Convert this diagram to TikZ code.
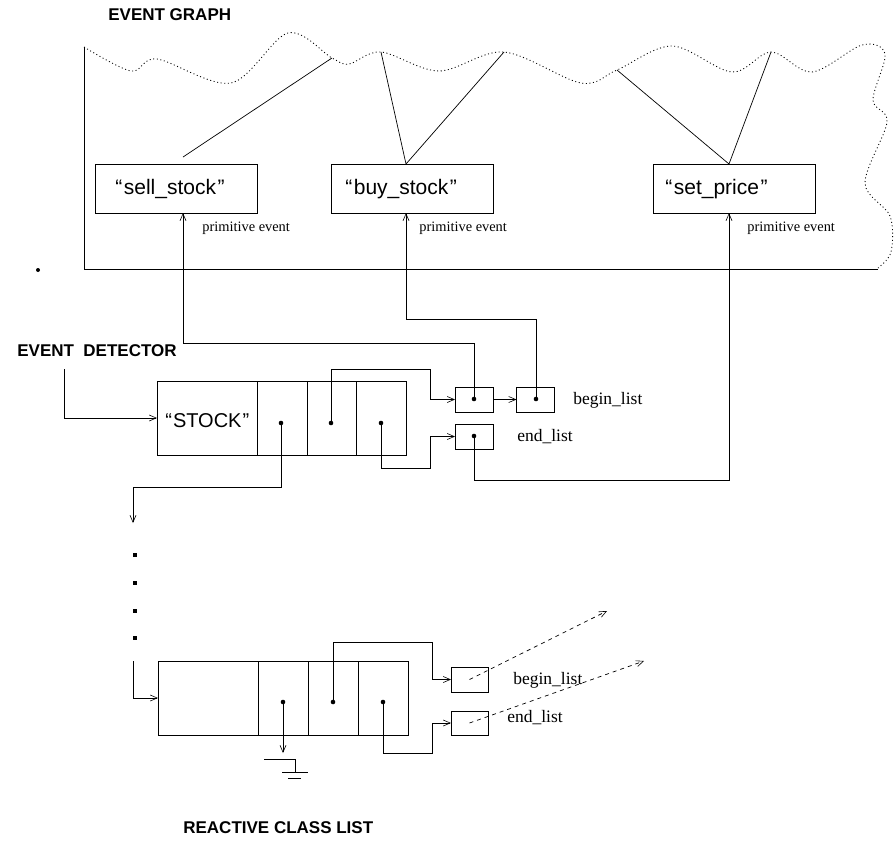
\documentclass[tikz,border=0pt]{standalone}
\usepackage{fontspec}
\setmainfont{Liberation Serif}
\setsansfont{Liberation Sans}
\usetikzlibrary{arrows.meta}
\begin{document}
\begin{tikzpicture}[x=1pt,y=-1pt,line width=0.7pt,
  tip/.style={-{Straight Barb[length=7pt,width=6pt,line width=0.6pt]}},
  evbox/.style={draw,rectangle,inner sep=0pt,outer sep=0pt,minimum width=162pt,minimum height=49pt},
  cellbox/.style={draw,rectangle,inner sep=0pt,outer sep=0pt,minimum height=74pt},
  ptrbox/.style={draw,rectangle,inner sep=0pt,outer sep=0pt,minimum width=38pt,minimum height=25pt},
  dot/.style={circle,fill,inner sep=0pt,minimum size=4.6pt},
  sq/.style={rectangle,fill,inner sep=0pt,minimum size=4pt},
  head/.style={font=\sffamily\bfseries\fontsize{17}{20}\selectfont,inner sep=0pt,anchor=west},
  evlbl/.style={font=\sffamily\fontsize{21}{24}\selectfont,inner sep=0pt,anchor=west},
  small/.style={font=\rmfamily\fontsize{14.4}{16}\selectfont,inner sep=0pt,anchor=west},
  listlbl/.style={font=\rmfamily\fontsize{17.5}{20}\selectfont,inner sep=0pt,anchor=west},
  wavy/.style={dash pattern=on 1pt off 2.6pt,line width=0.85pt}]
\useasboundingbox (0,0) rectangle (894,841);

% ---------- headings ----------
\node[head] (hEG) at (108,15) {EVENT GRAPH};
\node[head] (hED) at (17,351) {EVENT\ \ DETECTOR};
\node[head] (hRC) at (183,828) {REACTIVE CLASS LIST};

% ---------- event graph frame ----------
\coordinate (egTL) at (84,47);
\coordinate (egBL) at (84,269);
\coordinate (egBR) at (878,269);
\draw (egTL) -- (egBL) -- (egBR);
\coordinate (w1) at (332,58);
\coordinate (w2) at (381,52);
\coordinate (w3) at (504,52);
\coordinate (w4) at (617,70);
\coordinate (w5) at (771,52);
\draw[wavy] plot[smooth,tension=0.55] coordinates {(84,47) (131,71) (157,59) (231,83) (288,33) (332,58) (349,64) (381,52) (439,71) (504,52) (581,83) (617,70) (672,46) (732,72) (771,52) (812,72) (862,45) (885,54) (873,100) (887,122) (865,183) (890,216) (891,252) (878,268)};
\node[circle,fill,inner sep=0pt,minimum size=4pt] (stray) at (38,270) {};

% ---------- primitive event boxes ----------
\node[evbox] (sell) at (176,188.5) {};
\node[evbox] (buy) at (412,188.5) {};
\node[evbox] (setp) at (734,188.5) {};
\node[evlbl] (sellT) at (115,189) {“\kern1.5pt sell\_stock\kern1.5pt”};
\node[evlbl] (buyT) at (345,189) {“\kern1.5pt buy\_stock\kern1.5pt”};
\node[evlbl] (setT) at (665,189) {“\kern1.5pt set\_price\kern1.5pt”};
\node[small] (pe1) at (202,228) {primitive event};
\node[small] (pe2) at (419,228) {primitive event};
\node[small] (pe3) at (747,228) {primitive event};

\coordinate (sellup) at (183,157);
\draw (sellup) -- (w1);
\draw (w2) -- (406,0 |- buy.north) -- (w3);
\draw (w4) -- (729,0 |- setp.north) -- (w5);

% ---------- event detector structure ----------
\node[cellbox,minimum width=100pt] (c0) at (207,418) {};
\node[cellbox,minimum width=50pt] (c1) at (282,418) {};
\node[cellbox,minimum width=49pt] (c2) at (331.5,418) {};
\node[cellbox,minimum width=50pt] (c3) at (381,418) {};
\node[font=\sffamily\fontsize{20}{22}\selectfont,inner sep=0pt,anchor=west] (stockT) at (165,421) {“\kern1pt STOCK\kern1pt”};
\node[dot] (d1) at (281,423) {};
\node[dot] (d2) at (331,423) {};
\node[dot] (d3) at (381,423) {};

\node[ptrbox] (p1) at (474,399.5) {};
\node[ptrbox] (p2) at (535.5,399.5) {};
\node[ptrbox] (p3) at (474,436.5) {};
\node[dot] (pd1) at (474,399) {};
\node[dot] (pd2) at (536,399) {};
\node[dot] (pd3) at (474,436) {};
\node[listlbl] (bl1) at (573,400) {begin\_list};
\node[listlbl] (el1) at (517,437) {end\_list};

\coordinate (edstart) at (64,369);
\draw[tip] (edstart) |- (c0.west |- 0,418);
\draw[tip] (d2.center) -- (331,369) -- (430,369) |- (p1.west);
\draw[tip] (d3.center) -- (381,468) -- (430,468) |- (p3.west);
\draw[tip] (p1.east) -- (p2.west);
\draw[tip] (pd1.center) |- (183,343) -- (183,0 |- sell.south);
\draw[tip] (pd2.center) |- (406,319) -- (406,0 |- buy.south);
\draw[tip] (pd3.center) |- (729,480) -- (729,0 |- setp.south);
\coordinate (downend) at (133,523);
\draw[tip] (d1.center) |- (133,487) -- (downend);

% ---------- continuation squares ----------
\node[sq] (s1) at (135,555) {};
\node[sq] (s2) at (135,583) {};
\node[sq] (s3) at (135,611) {};
\node[sq] (s4) at (135,638) {};

% ---------- reactive class list entry ----------
\node[cellbox,minimum width=100pt] (r0) at (208,698) {};
\node[cellbox,minimum width=50pt] (r1) at (283,698) {};
\node[cellbox,minimum width=50pt] (r2) at (333,698) {};
\node[cellbox,minimum width=50pt] (r3) at (383,698) {};
\node[dot] (e1) at (283,702) {};
\node[dot] (e2) at (333,702) {};
\node[dot] (e3) at (383,702) {};
\node[ptrbox,minimum width=37pt] (q1) at (469.5,679.5) {};
\node[ptrbox,minimum width=37pt,minimum height=24pt] (q2) at (469.5,723) {};
\node[listlbl] (bl2) at (513,680) {begin\_list};
\node[listlbl] (el2) at (507,718) {end\_list};

\coordinate (rstart) at (133,661);
\draw[tip] (rstart) |- (r0.west |- 0,698);
\draw[tip] (e2.center) -- (333,642) -- (432,642) |- (q1.west);
\draw[tip] (e3.center) -- (383,753) -- (432,753) |- (q2.west);
\coordinate (gnd) at (283,753);
\draw[tip] (e1.center) -- (gnd);
\draw (264,759) -- (295,759) -- (295,772);
\draw (282,772) -- (308,772);
\draw (288,778) -- (301,778);

\coordinate (far1) at (607,611);
\coordinate (far2) at (644,661);
\draw[tip,dash pattern=on 4pt off 4pt] (q1.center) -- (far1);
\draw[tip,dash pattern=on 4pt off 4pt] (q2.center) -- (far2);
\end{tikzpicture}
\end{document}
